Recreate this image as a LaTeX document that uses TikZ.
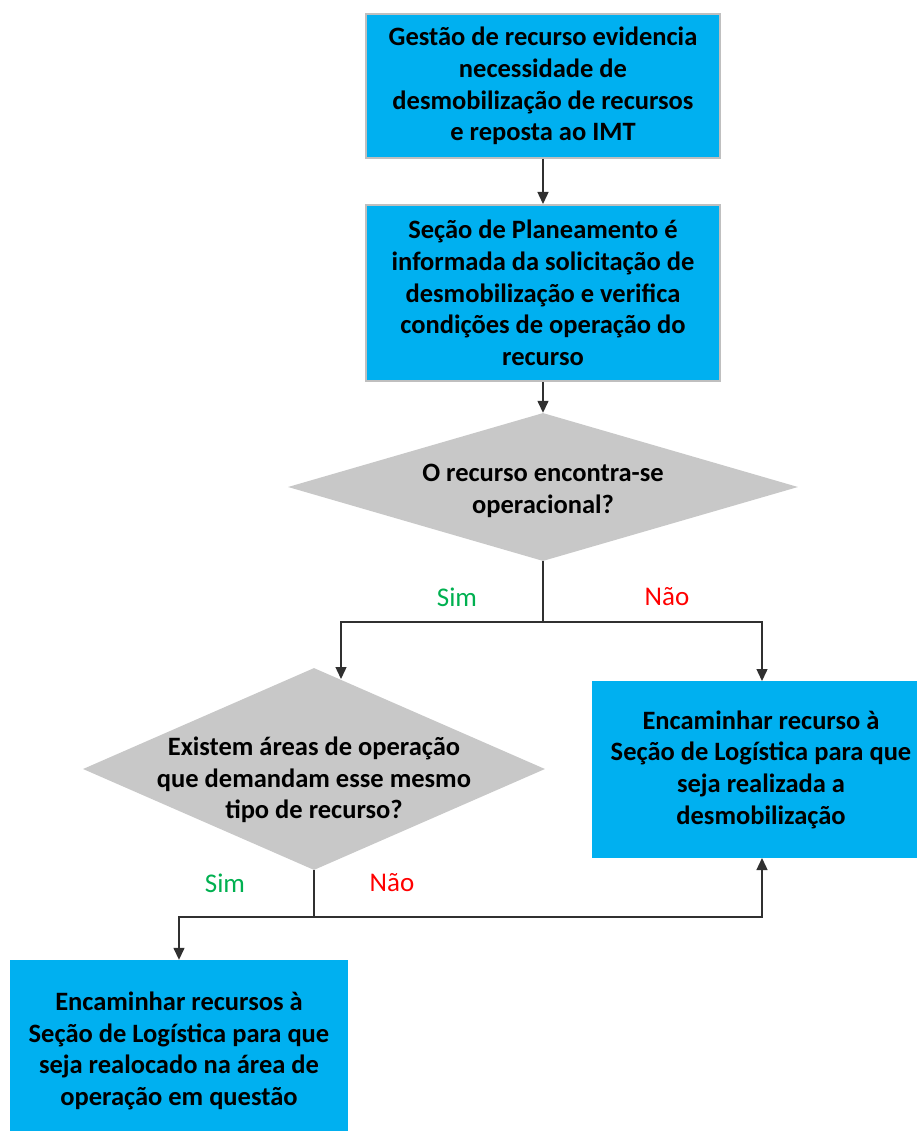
\documentclass[tikz,border=0pt]{standalone}
\usepackage{fontspec}
\setmainfont{Carlito}
\usetikzlibrary{shapes.geometric,arrows.meta}
\definecolor{boxblue}{HTML}{00B0F0}
\definecolor{boxedge}{HTML}{BFBFBF}
\definecolor{diagray}{HTML}{C8C8C8}
\definecolor{linegray}{HTML}{303030}
\definecolor{simgreen}{HTML}{00B050}
\definecolor{naored}{HTML}{FF0000}
\begin{document}
\begin{tikzpicture}[x=1pt,y=-1pt,
  boxtext/.style={font=\fontsize{26.5}{31.7}\selectfont\bfseries, align=center, text=black},
  bluebox/.style={boxtext, rectangle, fill=boxblue, inner sep=0pt},
  edgedbox/.style={bluebox, draw=boxedge, line width=2pt},
  decision/.style={diamond, fill=diagray, inner sep=0pt},
  conn/.style={draw=linegray, line width=1.4pt},
  arr/.style={conn, -{Triangle[length=12pt,width=11pt]}},
  lbl/.style={font=\fontsize{27}{30}\selectfont}
]
\useasboundingbox (0,0) rectangle (917,1131);

\node[edgedbox, minimum width=354pt, minimum height=144pt] (b1) at (543,86)
  {Gestão de recurso evidencia\\necessidade de\\desmobilização de recursos\\e reposta ao IMT};
\node[edgedbox, minimum width=354pt, minimum height=176pt] (b2) at (543,293)
  {Seção de Planeamento é\\informada da solicitação de\\desmobilização e verifica\\condições de operação do\\recurso};

\node[decision, minimum width=510pt, minimum height=148pt] (d1) at (543,487) {};
\node[boxtext] (t1) at (543,491) {O recurso encontra-se\\operacional?};

\node[decision, minimum width=462pt, minimum height=202pt] (d2) at (314,769) {};
\node[boxtext] (t2) at (314,780) {Existem áreas de operação\\que demandam esse mesmo\\tipo de recurso?};

\node[bluebox, minimum width=338pt, minimum height=177pt] (b3) at (761,769.5)
  {Encaminhar recurso à\\Seção de Logística para que\\seja realizada a\\desmobilização};
\node[bluebox, minimum width=338pt, minimum height=182pt] (b4) at (179,1051)
  {Encaminhar recursos à\\Seção de Logística para que\\seja realocado na área de\\operação em questão};

\coordinate (j1) at (543,622);
\coordinate (d2in) at (341,679);
\coordinate (b3in) at (762,681);
\coordinate (j2) at (314,917);
\coordinate (b3out) at (762,858);

\draw[arr] (b1.south) -- (b2.north);
\draw[arr] (b2.south) -- (d1.north);
\draw[conn] (d1.south) -- (j1);
\draw[arr] (j1) -| (d2in);
\draw[arr] (j1) -| (b3in);
\draw[conn] (d2.south) -- (j2);
\draw[arr] (j2) -| (b4.north);
\draw[arr] (j2) -| (b3out);

\node[lbl, text=simgreen] (s1) at (457,597) {Sim};
\node[lbl, text=naored] (n1) at (667,597) {Não};
\node[lbl, text=simgreen] (s2) at (225,883) {Sim};
\node[lbl, text=naored] (n2) at (392,883) {Não};
\end{tikzpicture}
\end{document}
